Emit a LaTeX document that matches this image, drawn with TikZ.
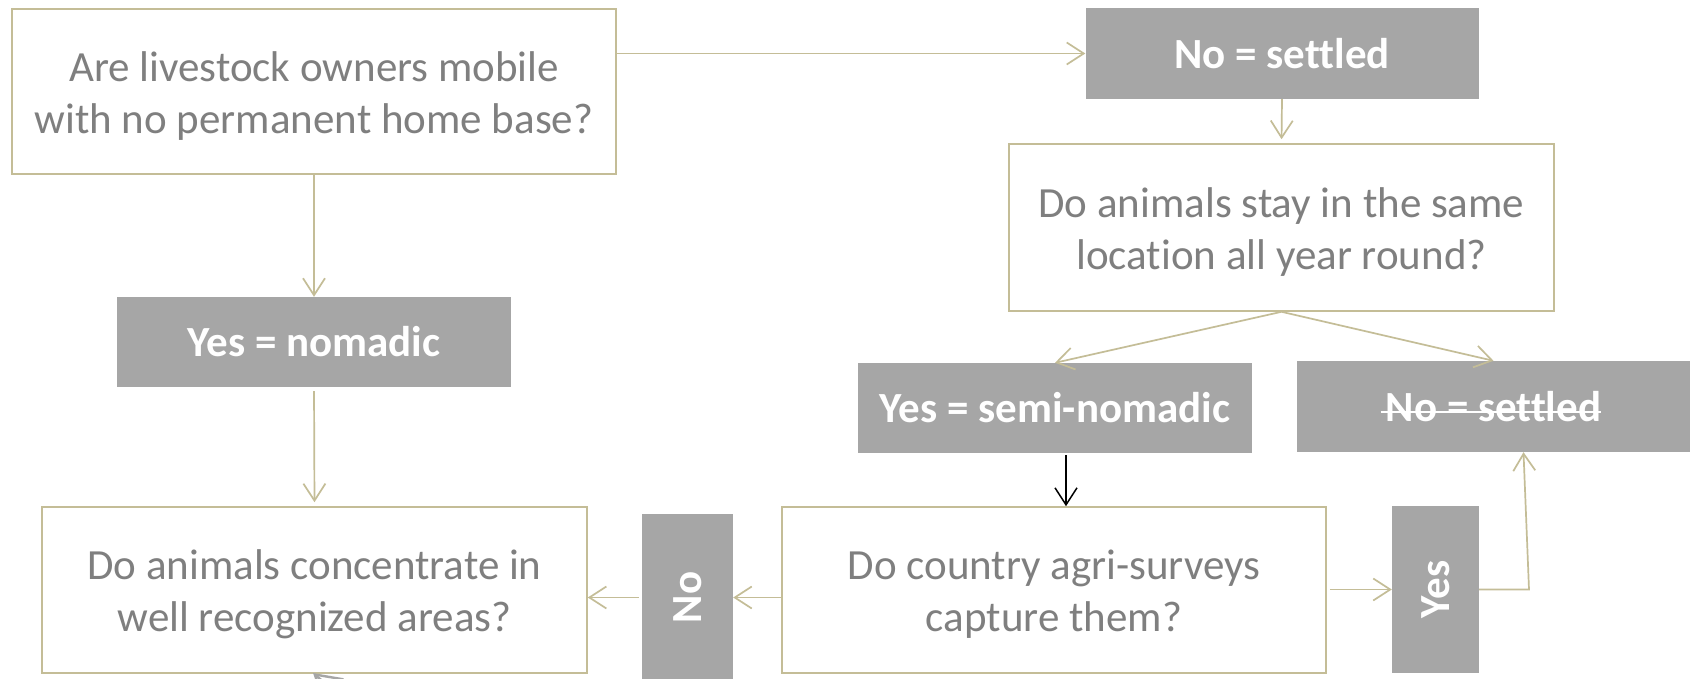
\documentclass[tikz,border=0pt]{standalone}
\usepackage{fontspec}
\setmainfont[Ligatures=CommonOff]{Carlito}
\usetikzlibrary{arrows.meta}
\definecolor{khaki}{HTML}{C4BD97}
\definecolor{boxgrey}{HTML}{A6A6A6}
\definecolor{txtgrey}{HTML}{7F7F7F}
\begin{document}
\begin{tikzpicture}[x=1pt,y=-1pt,
  qbox/.style={draw=khaki, line width=1.6pt, fill=white, inner sep=0pt},
  qtext/.style={text=txtgrey, align=center, inner sep=0pt, font=\fontsize{43}{52}\selectfont},
  abox/.style={fill=boxgrey, text=white, align=center, inner sep=0pt, font=\bfseries\fontsize{43}{50}\selectfont},
  wlabel/.style={text=white, inner sep=0pt, font=\bfseries\fontsize{43}{50}\selectfont},
  rlabel/.style={wlabel, rotate=90},
  conn/.style={draw=khaki, line width=1.7pt, -{Straight Barb[length=17pt,width=22pt]}},
  bconn/.style={draw=black, line width=1.5pt, -{Straight Barb[length=17pt,width=22pt]}},
  ]
\useasboundingbox[fill=white] (0,0) rectangle (1701,679);

\node[qbox, minimum width=604pt, minimum height=165pt] (q1) at (314,91.5) {};
\node[qtext] (q1t) at ([yshift=-4.5pt]q1.center) {Are livestock owners mobile\\with no permanent home base?};
\node[abox, minimum width=393pt, minimum height=91pt] (nos) at (1282,53.5) {No = settled};
\node[qbox, minimum width=545pt, minimum height=167pt] (q2) at (1281.5,227.5) {};
\node[qtext] (q2t) at ([yshift=-4.5pt]q2.center) {Do animals stay in the same\\location all year round?};
\node[abox, minimum width=394pt, minimum height=90pt] (yn) at (314,342) {Yes = nomadic};
\node[abox, minimum width=394pt, minimum height=90pt] (ysn) at (1055,408) {Yes = semi-nomadic};
\node[abox, minimum width=393pt, minimum height=91pt] (nos2) at (1493.5,406.5) {};
\node[wlabel] (nos2text) at (nos2.center) {No = settled};
\draw[white, line width=1.7pt] ([shift={(-5,-9.5)}]nos2text.base west) -- ([shift={(0,-9.5)}]nos2text.base east);
\node[qbox, minimum width=545pt, minimum height=166pt] (q3) at (314.5,590) {};
\node[qtext] (q3t) at ([yshift=-4.5pt]q3.center) {Do animals concentrate in\\well recognized areas?};
\node[abox, minimum width=91pt, minimum height=167pt] (no) at (687.5,597.5) {};
\node[rlabel] (notext) at (no.center) {No};
\node[qbox, minimum width=544pt, minimum height=166pt] (q4) at (1054,590) {};
\node[qtext] (q4t) at ([yshift=-4.5pt]q4.center) {Do country agri-surveys\\capture them?};
\node[abox, minimum width=87pt, minimum height=167pt] (yes) at (1435.5,589.5) {};
\node[rlabel] (yestext) at (yes.center) {Yes};

\coordinate (yc) at (1529,589.5);
\coordinate (q3in) at (313,673);
\coordinate (stubtail) at (389,738);

\draw[conn] (q1.east |- nos) -- (nos.west);
\draw[conn, shorten >=4pt] (nos.south) -- (q2.north);
\draw[conn] (q1.south) -- (yn.north);
\draw[conn, shorten <=4pt, shorten >=4pt] (yn.south) -- (q3.north);
\draw[conn] (q2.south) -- (ysn.north);
\draw[conn] (q2.south) -- (nos2.north);
\draw[bconn, shorten <=2pt] ([xshift=11pt]ysn.south) -- ([xshift=12pt]q4.north);
\draw[conn] (q4.west |- no) -- (no.east);
\draw[conn, shorten <=3pt] (no.west) -- (q3.east |- no);
\draw[conn, shorten <=3pt] (q4.east |- yes) -- (yes.west);
\draw[conn] (yes.east) -- (yc) -- ([xshift=30pt]nos2.south);
\begin{scope}
\clip (0,0) rectangle (1701,679);
\draw[boxgrey, line width=2.4pt, -{Straight Barb[length=25pt,width=30pt]}] (stubtail) -- (q3in);
\end{scope}
\end{tikzpicture}
\end{document}
